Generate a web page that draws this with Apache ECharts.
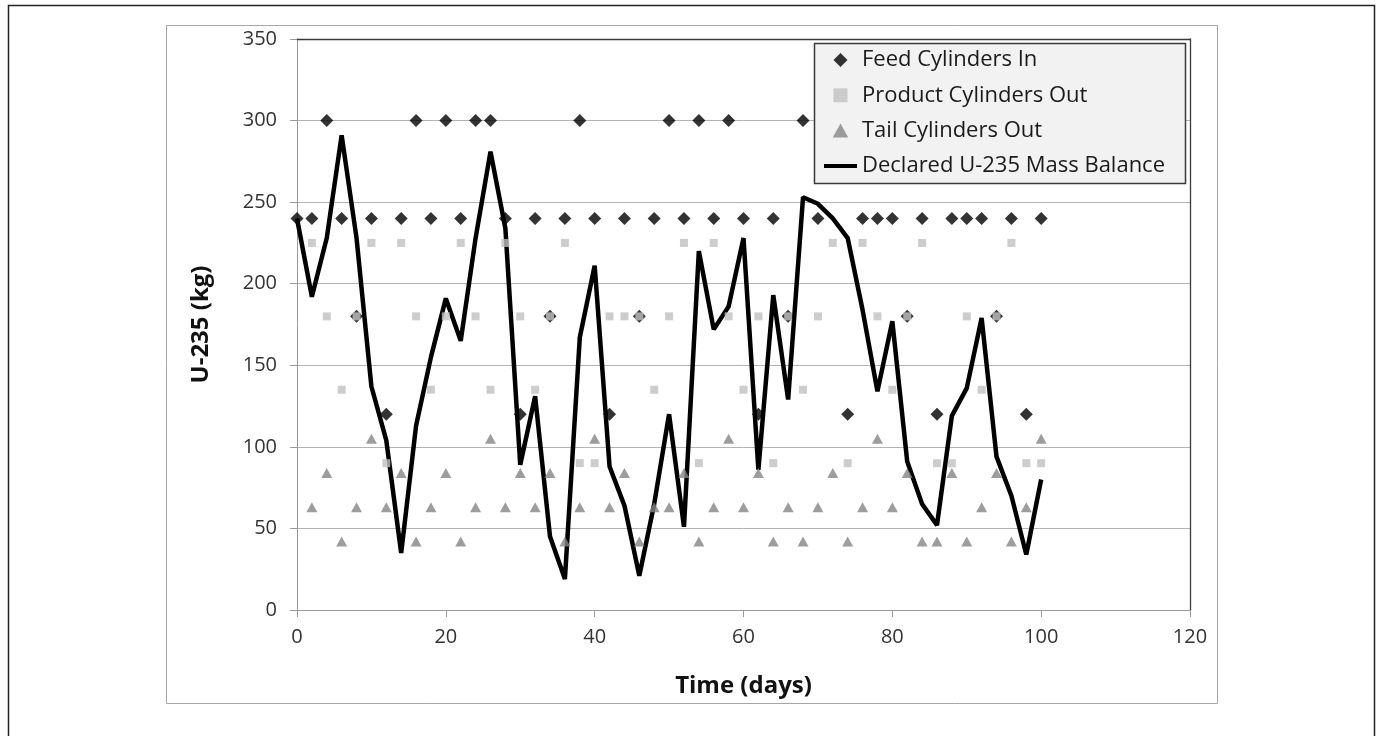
<!DOCTYPE html>
<html>
<head>
<meta charset="utf-8">
<title>U-235 Mass Balance</title>
<script src="https://cdn.jsdelivr.net/npm/echarts@6/dist/echarts.min.js"></script>
<style>
  html, body { margin: 0; padding: 0; background: #ffffff; }
  #chart { width: 1379px; height: 736px; }
</style>
</head>
<body>
<div id="chart"></div>
<script>
// Sampling days (every second day)
const days = [0, 2, 4, 6, 8, 10, 12, 14, 16, 18, 20, 22, 24, 26, 28, 30, 32, 34, 36, 38, 40,
  42, 44, 46, 48, 50, 52, 54, 56, 58, 60, 62, 64, 66, 68, 70, 72, 74, 76, 78, 80,
  82, 84, 86, 88, 90, 92, 94, 96, 98, 100];

// U-235 (kg) in feed cylinders received each day
const feedIn = [240, 240, 300, 240, 180, 240, 120, 240, 300, 240, 300, 240, 300, 300, 240, 120,
  240, 180, 240, 300, 240, 120, 240, 180, 240, 300, 240, 300, 240, 300, 240, 120,
  240, 180, 300, 240, 300, 120, 240, 240, 240, 180, 240, 120, 240, 240, 240, 180,
  240, 120, 240];

// U-235 (kg) in product cylinders shipped
const productOut = [null, 225, 180, 135, 180, 225, 90, 225, 180, 135, 180, 225, 180, 135, 225, 180,
  135, 180, 225, 90, 90, 180, 180, 180, 135, 180, 225, 90, 225, 180, 135, 180,
  90, 180, 135, 180, 225, 90, 225, 180, 135, 180, 225, 90, 90, 180, 135, 180,
  225, 90, 90];

// U-235 (kg) in tail cylinders shipped
const tailOut = [null, 63, 84, 42, 63, 105, 63, 84, 42, 63, 84, 42, 63, 105, 63, 84,
  63, 84, 42, 63, 105, 63, 84, 42, 63, 63, 84, 42, 63, 105, 63, 84,
  42, 63, 42, 63, 84, 42, 63, 105, 63, 84, 42, 42, 84, 42, 63, 84,
  42, 63, 105];

// Declared U-235 mass balance (kg)
const massBalance = [240, 192, 228, 291, 228, 137, 104, 35, 113, 155, 191, 165, 228, 281, 234, 89,
  131, 45, 19, 167, 211, 88, 64, 21, 65, 120, 51, 220, 172, 186, 228, 86,
  193, 129, 253, 249, 240, 228, 184, 134, 177, 91, 65, 52, 119, 136, 179, 94,
  70, 34, 80];

const xTicks = { min: 0, max: 120, interval: 20 };
const yTicks = { min: 0, max: 350, interval: 50 };

const seriesNames = ['Feed Cylinders In', 'Product Cylinders Out', 'Tail Cylinders Out', 'Declared U-235 Mass Balance'];

const pairs = (vals) => days.map((d, i) => [d, vals[i]]).filter(p => p[1] !== null);

const FONT = "'Open Sans', 'Noto Sans', sans-serif";
const tickText = { fontFamily: FONT, fontSize: 20, color: '#333333' };
const nameText = { fontFamily: FONT, fontSize: 24, fontWeight: 'bold', color: '#111111' };

// Legend icons as paths so they keep their aspect ratio inside the wide icon slot
const ICON_DIAMOND = 'path://M5,0 L10,5 L5,10 L0,5 Z';
const ICON_SQUARE = 'path://M0,0 L9,0 L9,9 L0,9 Z';
const ICON_TRIANGLE = 'path://M5,0 L10,9 L0,9 Z';

const chart = echarts.init(document.getElementById('chart'), null, { renderer: 'canvas' });

chart.setOption({
  animation: false,
  backgroundColor: '#ffffff',
  graphic: [
    { // outer page frame
      type: 'rect', z: 0,
      shape: { x: 8.5, y: 5.5, width: 1366, height: 760 },
      style: { fill: 'none', stroke: '#222222', lineWidth: 1.5 }
    },
    { // chart area border
      type: 'rect', z: 0,
      shape: { x: 166.5, y: 25.5, width: 1051, height: 678 },
      style: { fill: 'none', stroke: '#a6a6a6', lineWidth: 1 }
    },
    { // legend box
      type: 'rect', z: 3,
      shape: { x: 814.5, y: 43.5, width: 371, height: 140 },
      style: { fill: '#f2f2f2', stroke: '#3a3a3a', lineWidth: 1.5 }
    }
  ],
  grid: { left: 297, right: 189, top: 39, bottom: 126, containLabel: false },
  legend: {
    data: [
      { name: seriesNames[0], icon: ICON_DIAMOND },
      { name: seriesNames[1], icon: ICON_SQUARE },
      { name: seriesNames[2], icon: ICON_TRIANGLE },
      { name: seriesNames[3], itemStyle: { opacity: 0 }, lineStyle: { color: '#000000', width: 4 } }
    ],
    orient: 'vertical',
    left: 822,
    top: 48,
    z: 4,
    padding: 0,
    itemWidth: 33,
    itemHeight: 14,
    itemGap: 11.3,
    symbolKeepAspect: true,
    selectedMode: false,
    textStyle: { fontFamily: FONT, fontSize: 22, color: '#1a1a1a', lineHeight: 24 }
  },
  xAxis: [
    {
      type: 'value',
      min: xTicks.min, max: xTicks.max, interval: xTicks.interval,
      name: 'Time (days)',
      nameLocation: 'middle',
      nameGap: 64,
      nameTextStyle: nameText,
      axisLine: { show: true, onZero: false, lineStyle: { color: '#9a9a9a', width: 1 } },
      axisTick: { show: true, inside: false, length: 7, lineStyle: { color: '#9a9a9a' } },
      axisLabel: Object.assign({ margin: 17 }, tickText),
      splitLine: { show: false }
    },
    {
      type: 'value', position: 'top',
      min: xTicks.min, max: xTicks.max, interval: xTicks.interval,
      axisLine: { show: true, onZero: false, lineStyle: { color: '#3a3a3a', width: 1.3 } },
      axisTick: { show: false }, axisLabel: { show: false }, splitLine: { show: false }
    }
  ],
  yAxis: [
    {
      type: 'value',
      min: yTicks.min, max: yTicks.max, interval: yTicks.interval,
      name: 'U-235 (kg)',
      nameLocation: 'middle',
      nameGap: 84,
      nameRotate: 90,
      nameTextStyle: nameText,
      axisLine: { show: true, onZero: false, lineStyle: { color: '#9a9a9a', width: 1 } },
      axisTick: { show: true, inside: false, length: 7, lineStyle: { color: '#9a9a9a' } },
      axisLabel: Object.assign({ margin: 20 }, tickText),
      splitLine: { show: true, lineStyle: { color: '#b4b4b4', width: 1 } }
    },
    {
      type: 'value', position: 'right',
      min: yTicks.min, max: yTicks.max, interval: yTicks.interval,
      axisLine: { show: true, onZero: false, lineStyle: { color: '#3a3a3a', width: 1.3 } },
      axisTick: { show: false }, axisLabel: { show: false }, splitLine: { show: false }
    }
  ],
  series: [
    {
      name: seriesNames[3],
      type: 'line',
      data: pairs(massBalance),
      symbol: 'none',
      lineStyle: { color: '#000000', width: 4.5 },
      itemStyle: { color: '#000000' },
      z: 2
    },
    {
      name: seriesNames[0],
      type: 'scatter',
      data: pairs(feedIn),
      symbol: 'diamond',
      symbolSize: 13,
      itemStyle: { color: '#000000' },
      z: 2
    },
    {
      name: seriesNames[1],
      type: 'scatter',
      data: pairs(productOut),
      symbol: 'rect',
      symbolSize: 8,
      itemStyle: { color: '#c0c0c0' },
      z: 2
    },
    {
      name: seriesNames[2],
      type: 'scatter',
      data: pairs(tailOut),
      symbol: 'triangle',
      symbolSize: [11, 10],
      itemStyle: { color: '#858585' },
      z: 2
    }
  ]
});
</script>
</body>
</html>
